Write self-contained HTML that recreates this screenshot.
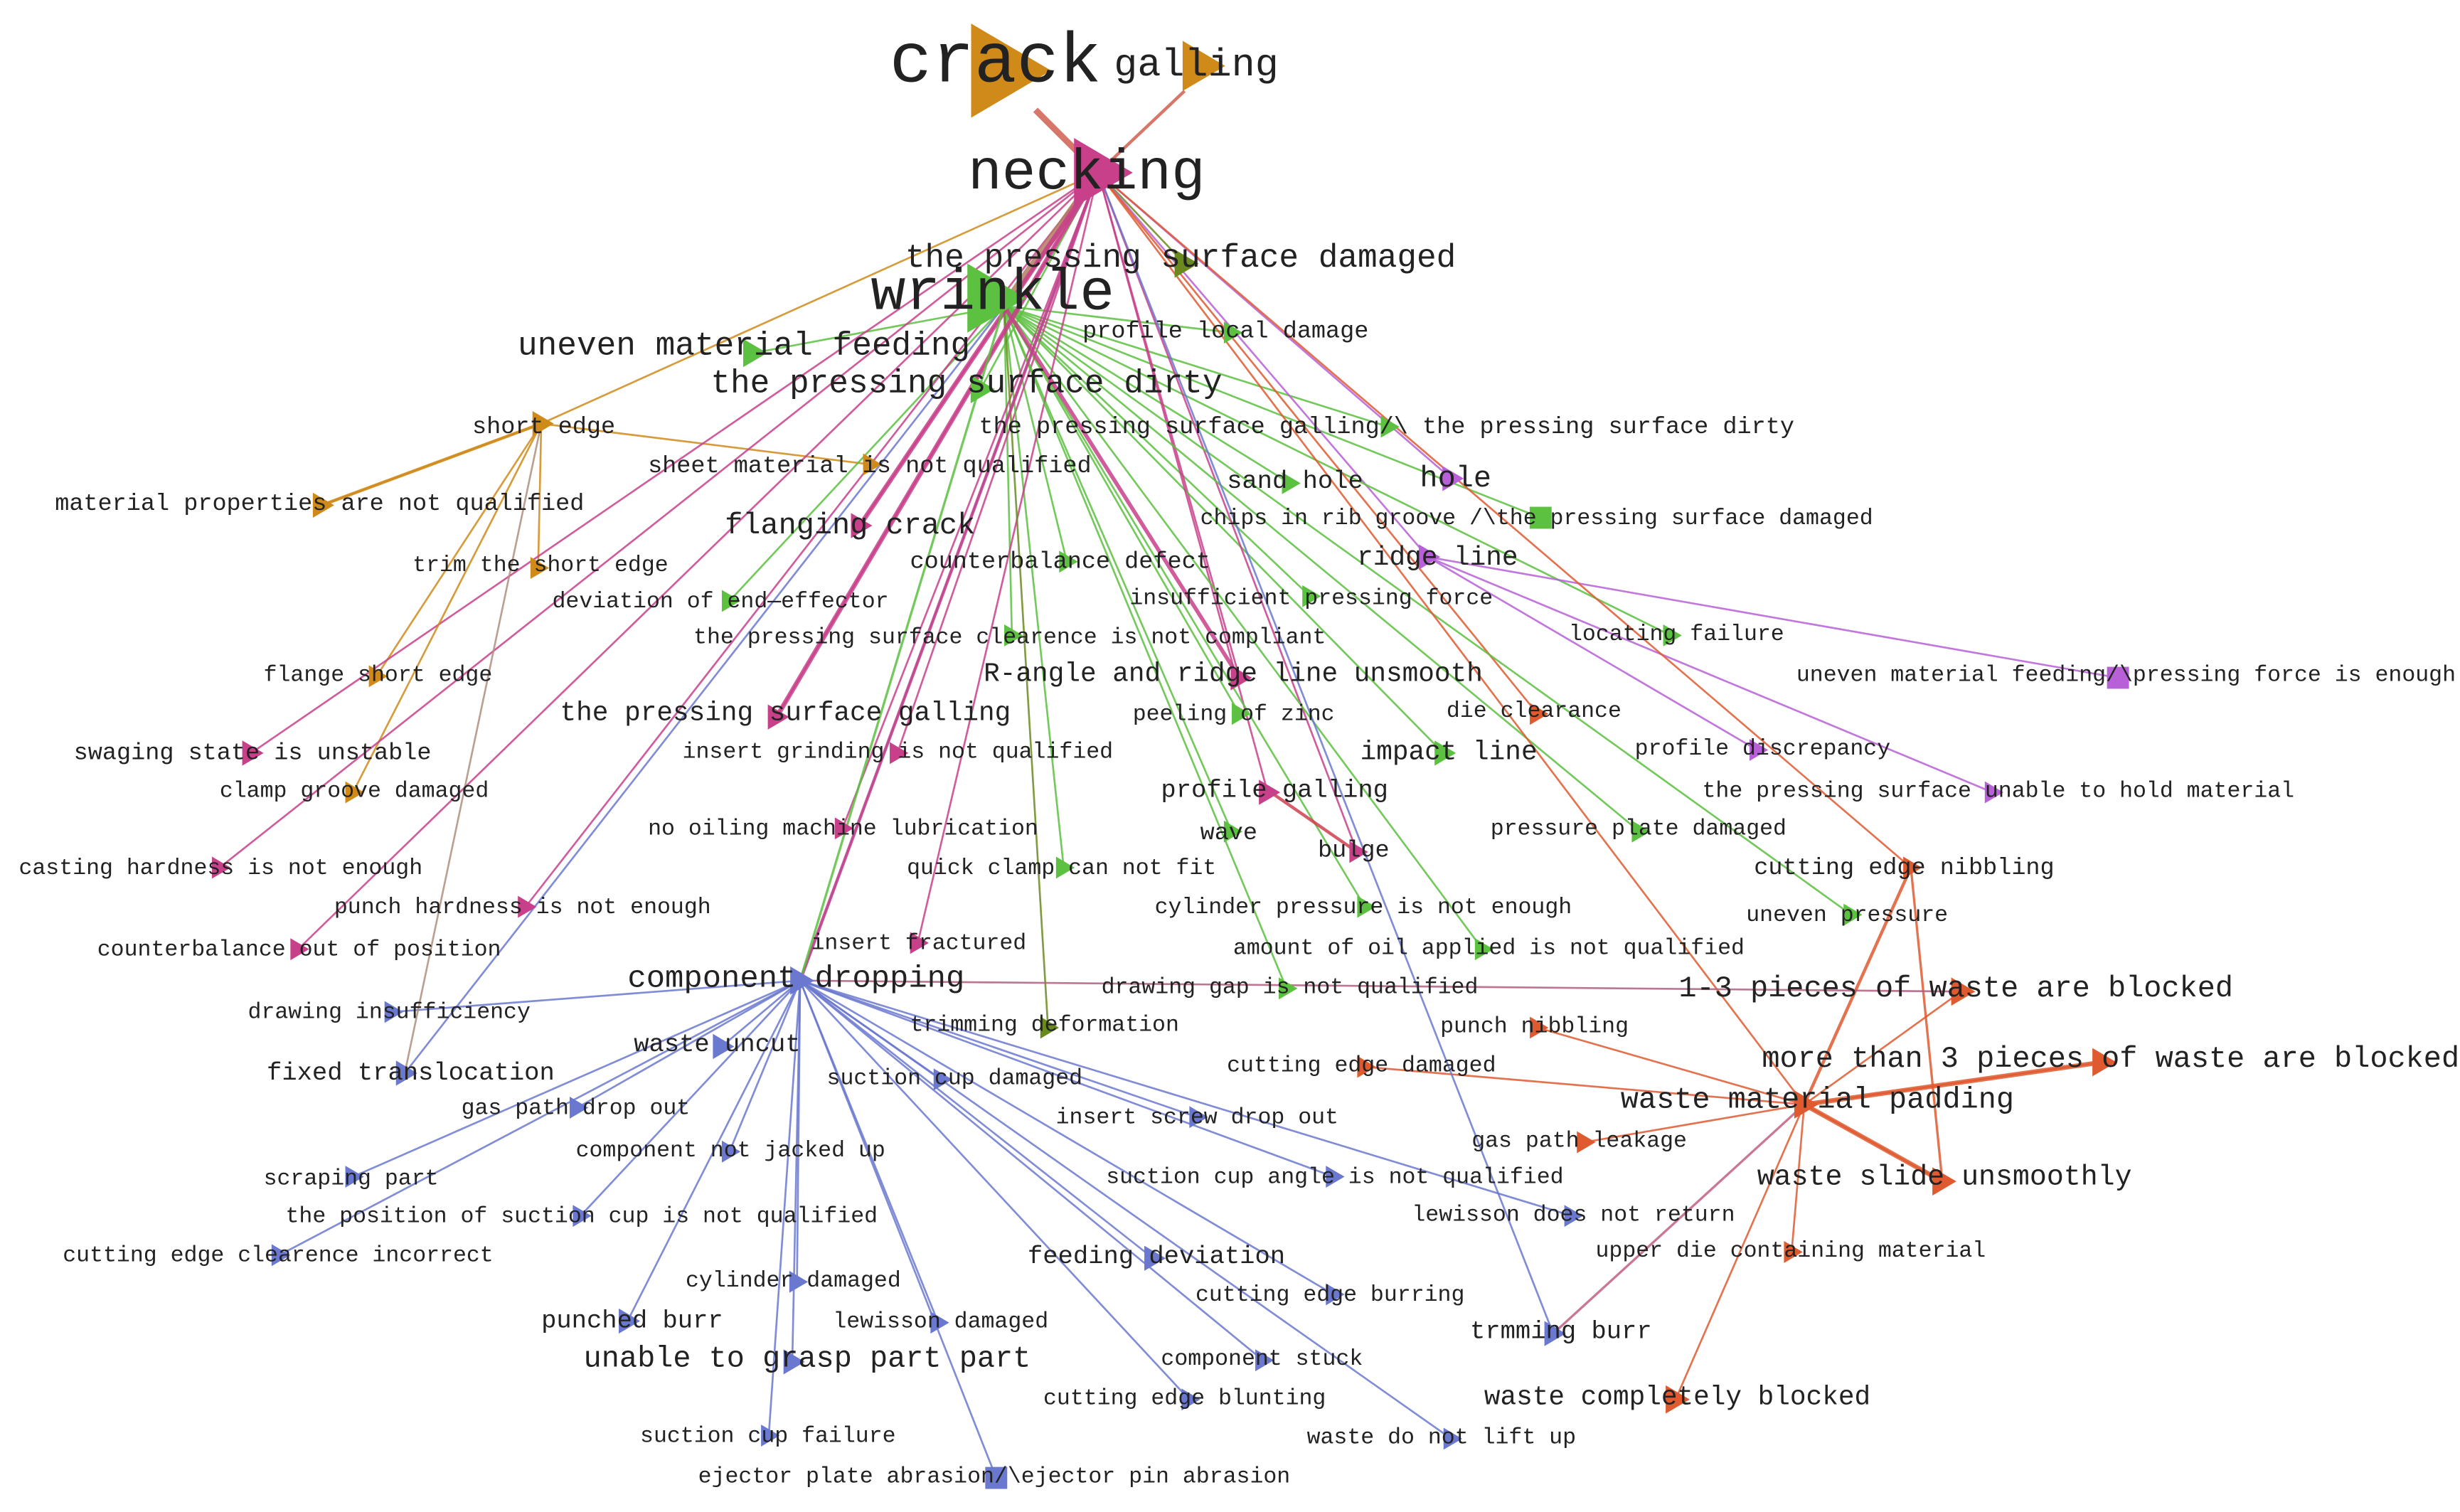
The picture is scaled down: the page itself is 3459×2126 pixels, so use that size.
<!DOCTYPE html>
<html><head><meta charset="utf-8"><style>
html,body{margin:0;padding:0;background:#fff;}
svg{display:block;}
text{font-family:"Liberation Mono","Noto Serif CJK SC",monospace;fill:#222;}
</style></head><body>
<svg id="s" width="3459" height="2126" viewBox="0 0 1568 963.7" xmlns="http://www.w3.org/2000/svg"></svg>
<script>
const C={o:"#d08a1a",m:"#c8408a",g:"#5cc040",ol:"#6a8a20",p:"#b860d8",b:"#6a78d0",r:"#e05a30"};
const W=[640,195],N=[700,110],CD=[510,625],WP=[1150,704],SE=[345,270];
const n=[
["the pressing surface damaged",577,170,22,755,168,"ol",9,N],
["profile local damage",690,215,16,785,212,"g",7,W],
["uneven material feeding",330,226,22,480,225,"g",9,W],
["the pressing surface dirty",453,250,22,625,248,"g",9,N],
["the pressing surface galling/\\ the pressing surface dirty",624,276,16,885,272,"g",7,W],
["short edge",301,276,16,345,270,"o",8,N],
["sheet material is not qualified",413,301,16,555,296,"o",7,SE],
["material properties are not qualified",35,325,16,205,322,"o",8,SE],
["sand hole",782,311,17,822,308,"g",7,W],
["hole",905,310,20,925,305,"p",8,N],
["chips in rib groove /\\the pressing surface damaged",765,334,15,982,330,"g",7,W,1],
["flanging crack",462,340,20,548,335,"m",8,N],
["counterbalance defect",580,362,16,680,358,"g",7,W],
["ridge line",865,360,18,910,355,"p",8,N],
["trim the short edge",263,364,15,343,362,"o",7,SE],
["deviation of end\u2014effector",352,387,15,465,383,"g",7,W],
["insufficient pressing force",720,385,15,835,380,"g",7,W],
["the pressing surface clearence is not compliant",442,410,15,645,405,"g",7,W],
["locating failure",1000,408,15,1065,405,"g",7,W],
["flange short edge",168,434,15,240,431,"o",7,SE],
["R-angle and ridge line unsmooth",627,434,18,790,432,"m",8,N],
["uneven material feeding/\\pressing force is enough",1145,434,15,1350,432,"p",7,[910,355],1],
["die clearance",922,457,15,980,455,"r",7,N],
["the pressing surface galling",357,459,18,495,457,"m",8,N],
["peeling of zinc",722,459,15,790,455,"g",7,W],
["swaging state is unstable",47,484,16,160,480,"m",8,N],
["insert grinding is not qualified",435,483,15,572,480,"m",7,N],
["impact line",867,484,18,920,480,"g",8,W],
["profile discrepancy",1042,481,15,1120,478,"p",7,[910,355]],
["clamp groove damaged",140,508,15,225,505,"o",7,SE],
["profile galling",740,508,17,808,505,"m",8,N],
["the pressing surface unable to hold material",1085,508,15,1270,505,"p",7,[910,355]],
["wave",765,535,16,785,530,"g",7,W],
["no oiling machine lubrication",413,532,15,537,528,"m",7,N],
["bulge",840,546,16,865,543,"m",7,N],
["pressure plate damaged",950,532,15,1045,530,"g",7,W],
["quick clamp can not fit",578,557,15,678,553,"g",7,W],
["casting hardness is not enough",12,557,15,140,553,"m",7,N],
["cutting edge nibbling",1118,557,16,1218,553,"r",7,N],
["cylinder pressure is not enough",736,582,15,870,578,"g",7,W],
["punch hardness is not enough",213,582,15,335,578,"m",7,N],
["uneven pressure",1113,587,15,1180,583,"g",7,W],
["amount of oil applied is not qualified",786,608,15,945,605,"g",7,W],
["counterbalance out of position",62,609,15,190,605,"m",7,N],
["insert fractured",517,605,15,585,601,"m",7,N],
["component dropping",400,629,21,510,625,"b",9,N],
["drawing gap is not qualified",702,633,15,820,630,"g",7,W],
["1-3 pieces of waste are blocked",1070,635,20,1250,632,"r",9,WP],
["drawing insufficiency",158,649,15,250,645,"b",7,CD],
["trimming deformation",580,657,15,668,655,"ol",7,W],
["punch nibbling",918,658,15,980,655,"r",7,WP],
["waste uncut",404,670,17,460,667,"b",8,CD],
["more than 3 pieces of waste are blocked",1123,680,20,1340,677,"r",9,WP],
["fixed translocation",170,688,17,258,684,"b",8,W],
["cutting edge damaged",782,683,15,870,680,"r",7,WP],
["suction cup damaged",527,691,15,600,688,"b",7,CD],
["waste material padding",1033,706,20,1150,704,"r",9,N],
["gas path drop out",294,710,15,368,706,"b",7,CD],
["insert screw drop out",673,716,15,763,712,"b",7,CD],
["gas path leakage",938,731,15,1010,728,"r",7,WP],
["component not jacked up",367,737,15,465,734,"b",7,CD],
["scraping part",168,755,15,225,750,"b",7,CD],
["suction cup angle is not qualified",705,754,15,850,750,"b",7,CD],
["waste slide unsmoothly",1120,755,19,1238,753,"r",9,WP],
["the position of suction cup is not qualified",182,779,15,370,775,"b",7,CD],
["lewisson does not return",900,778,15,1002,775,"b",7,CD],
["upper die containing material",1017,801,15,1142,798,"r",7,WP],
["cutting edge clearence incorrect",40,804,15,178,800,"b",7,CD],
["feeding deviation",655,805,17,735,802,"b",8,CD],
["cylinder damaged",437,820,15,508,817,"b",7,CD],
["cutting edge burring",762,829,15,850,825,"b",7,CD],
["punched burr",345,846,17,400,842,"b",8,CD],
["lewisson damaged",531,846,15,598,843,"b",7,CD],
["trmming burr",937,853,17,990,850,"b",8,N],
["unable to grasp part part",372,871,20,505,868,"b",8,CD],
["component stuck",740,870,15,805,867,"b",7,CD],
["cutting edge blunting",665,895,15,758,892,"b",7,CD],
["waste completely blocked",946,895,18,1068,892,"r",9,WP],
["suction cup failure",408,919,15,490,915,"b",7,CD],
["waste do not  lift up",833,920,15,925,917,"b",7,CD],
["ejector plate abrasion/\\ejector pin abrasion",445,945,15,635,942,"b",7,CD,1]
];
const s=document.getElementById("s");
let el="",tx="",mk="";
function tri(x,y,r,c){return `<polygon points="${x-r*0.7},${y-r} ${x+r},${y} ${x-r*0.7},${y+r}" fill="${c}"/>`;}
for(const a of n){
 const c=C[a[6]],t=a[8];
 el+=`<line x1="${a[4]}" y1="${a[5]}" x2="${t[0]}" y2="${t[1]}" stroke="${c}" stroke-width="1.2" opacity="0.85"/>`;
 if(a[9]) mk+=`<rect x="${a[4]-a[7]}" y="${a[5]-a[7]}" width="${a[7]*2}" height="${a[7]*2}" fill="${c}"/>`;
 else mk+=tri(a[4],a[5],a[7],c);
 tx+=`<text x="${a[1]}" y="${a[2]}" font-size="${(a[3]*0.95).toFixed(1)}">${a[0]}</text>`;
}
const ex=[[W,N,"#b08060",5],[N,[660,70],"#d06050",4],[N,[755,58],"#d06050",2],[CD,N,"#c8408a",2],[[548,335],N,"#c8408a",3],[[495,457],N,"#c8408a",3],[[990,850],WP,"#c06080",1.5],[WP,[1218,553],"#e05a30",2],[WP,[1340,677],"#e05a30",3],[WP,[1238,753],"#e05a30",3],[[1218,553],[1238,753],"#e05a30",1.5],[[810,505],[865,543],"#d04050",2],[[258,684],SE,"#b09080",1.2],[[790,432],W,"#c8408a",2.5],[CD,W,"#5cc040",1.5],[[510,625],[1250,632],"#b06080",1.2],[[345,270],[205,322],"#d08a1a",2]];
for(const e of ex) el+=`<line x1="${e[0][0]}" y1="${e[0][1]}" x2="${e[1][0]}" y2="${e[1][1]}" stroke="${e[2]}" stroke-width="${e[3]}" opacity="0.85"/>`;
mk+=tri(640,45,30,"#d08a1a")+tri(765,42,16,"#d08a1a")+tri(700,110,22,"#c8408a")+tri(632,190,22,"#5cc040");
tx+=`<text x="567" y="52" font-size="45">crack</text><text x="710" y="48" font-size="25">galling</text><text x="617" y="120" font-size="36">necking</text><text x="555" y="197" font-size="37">wrinkle</text>`;
s.innerHTML=el+mk+tx;
</script>
</body></html>
